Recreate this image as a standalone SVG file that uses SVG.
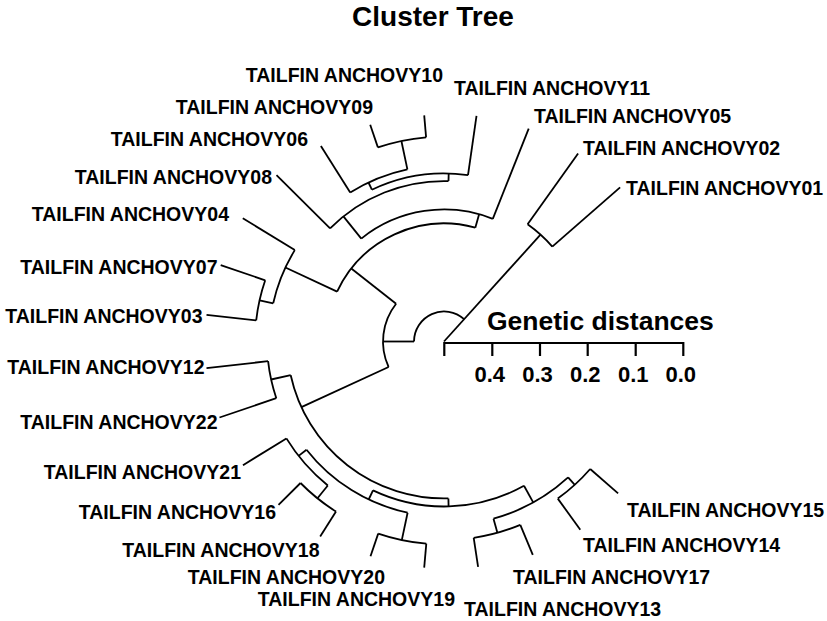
<svg xmlns="http://www.w3.org/2000/svg" width="827" height="621" viewBox="0 0 827 621">
<style>
.br{fill:none;stroke:#000;stroke-width:1.8;stroke-linecap:butt}
.sb{fill:none;stroke:#000;stroke-width:2.2}
.lb{font-family:"Liberation Sans",Arial,sans-serif;font-weight:bold;font-size:19.5px;fill:#000}
.l{text-anchor:end}
.tt{font-family:"Liberation Sans",Arial,sans-serif;font-weight:bold;fill:#000}
</style>
<rect width="827" height="621" fill="#fff"/>
<text class="tt" x="433" y="25.5" font-size="28" text-anchor="middle">Cluster Tree</text>
<g id="connectors">
<path class="br" d="M444,341.5 L540.5,234.7"/>
<path class="br" d="M464.1,319.2 A30,30 0 0 0 414,341.5"/>
<path class="br" d="M414,341.5 L383,341.5"/>
<path class="br" d="M396.1,303.8 A61,61 0 0 0 388.6,367"/>
<path class="br" d="M396.1,303.8 L351.3,268.5"/>
<path class="br" d="M475.3,227.7 A118,118 0 0 0 337.1,291.6"/>
<path class="br" d="M337.1,291.6 L285.4,267.5"/>
<path class="br" d="M294.8,250.1 A175,175 0 0 0 273.2,303.3"/>
<path class="br" d="M294.8,250.1 L242.8,218.2"/>
<path class="br" d="M273.2,303.3 L259.6,300.3"/>
<path class="br" d="M265.2,280.3 A189,189 0 0 0 256.2,320.4"/>
<path class="br" d="M265.2,280.3 L220.7,265.1"/>
<path class="br" d="M256.2,320.4 L206.5,314.9"/>
<path class="br" d="M475.3,227.7 L479.1,214.2"/>
<path class="br" d="M492.8,218.9 A132,132 0 0 0 361.3,238.6"/>
<path class="br" d="M492.8,218.9 L528.7,128.7"/>
<path class="br" d="M361.3,238.6 L343.4,216.4"/>
<path class="br" d="M448.5,181.1 A160.5,160.5 0 0 0 330.1,228.4"/>
<path class="br" d="M330.1,228.4 L276.5,175.2"/>
<path class="br" d="M448.5,181.1 L448.7,173.6"/>
<path class="br" d="M468,175.2 A168,168 0 0 0 371.9,189.7"/>
<path class="br" d="M468,175.2 L476.5,115.8"/>
<path class="br" d="M371.9,189.7 L368.5,182.5"/>
<path class="br" d="M407.4,169.4 A176,176 0 0 0 350.2,192.6"/>
<path class="br" d="M350.2,192.6 L320.9,146"/>
<path class="br" d="M407.4,169.4 L401.4,141"/>
<path class="br" d="M426.1,137.3 A205,205 0 0 0 377.9,147.4"/>
<path class="br" d="M426.1,137.3 L424.2,115.4"/>
<path class="br" d="M377.9,147.4 L370.2,124.7"/>
<path class="br" d="M552.3,246.6 A144,144 0 0 0 527.6,224.3"/>
<path class="br" d="M552.3,246.6 L620.1,187.4"/>
<path class="br" d="M527.6,224.3 L578.1,153.4"/>
<path class="br" d="M388.6,367 L301.4,407.1"/>
<path class="br" d="M290.7,375.2 A157,157 0 0 0 448.4,498.4"/>
<path class="br" d="M290.7,375.2 L271.1,379.5"/>
<path class="br" d="M268.1,361.2 A177,177 0 0 0 276.3,398.2"/>
<path class="br" d="M268.1,361.2 L206.5,368.1"/>
<path class="br" d="M276.3,398.2 L219.5,417.5"/>
<path class="br" d="M448.4,498.4 L448.6,506.4"/>
<path class="br" d="M373,490.4 A165,165 0 0 0 524,485.8"/>
<path class="br" d="M373,490.4 L368.7,499.5"/>
<path class="br" d="M306.5,449.7 A175,175 0 0 0 407.6,512.7"/>
<path class="br" d="M306.5,449.7 L298.6,455.9"/>
<path class="br" d="M286.4,438.4 A185,185 0 0 0 327.8,485.5"/>
<path class="br" d="M286.4,438.4 L243,465.2"/>
<path class="br" d="M327.8,485.5 L317.5,498.3"/>
<path class="br" d="M300.5,483 A201.5,201.5 0 0 0 336,511.6"/>
<path class="br" d="M300.5,483 L278.5,504.8"/>
<path class="br" d="M336,511.6 L320.2,536.5"/>
<path class="br" d="M407.6,512.7 L401.8,540.1"/>
<path class="br" d="M378.2,533.6 A203,203 0 0 0 426.3,543.7"/>
<path class="br" d="M378.2,533.6 L370.5,556.3"/>
<path class="br" d="M426.3,543.7 L424.2,567.6"/>
<path class="br" d="M524,485.8 L533.2,502.4"/>
<path class="br" d="M493.5,518.7 A184,184 0 0 0 568.1,477.4"/>
<path class="br" d="M493.5,518.7 L497.4,532.7"/>
<path class="br" d="M473.7,537.8 A198.5,198.5 0 0 0 520.3,524.8"/>
<path class="br" d="M473.7,537.8 L478.1,566.9"/>
<path class="br" d="M520.3,524.8 L532.8,554.8"/>
<path class="br" d="M568.1,477.4 L574.8,484.8"/>
<path class="br" d="M557.8,498.6 A194,194 0 0 0 590.2,469"/>
<path class="br" d="M557.8,498.6 L580.3,529.8"/>
<path class="br" d="M590.2,469 L618.1,493.4"/>
</g>
<g id="tip01"><text class="lb" x="626" y="195">TAILFIN ANCHOVY01</text></g>
<g id="tip02"><text class="lb" x="583" y="155">TAILFIN ANCHOVY02</text></g>
<g id="tip05"><text class="lb" x="534" y="123">TAILFIN ANCHOVY05</text></g>
<g id="tip11"><text class="lb" x="454" y="95">TAILFIN ANCHOVY11</text></g>
<g id="tip10"><text class="lb l" x="443" y="82">TAILFIN ANCHOVY10</text></g>
<g id="tip09"><text class="lb l" x="373" y="114">TAILFIN ANCHOVY09</text></g>
<g id="tip06"><text class="lb l" x="308" y="145.5">TAILFIN ANCHOVY06</text></g>
<g id="tip08"><text class="lb l" x="272" y="184">TAILFIN ANCHOVY08</text></g>
<g id="tip04"><text class="lb l" x="229" y="221">TAILFIN ANCHOVY04</text></g>
<g id="tip07"><text class="lb l" x="217.5" y="273.5">TAILFIN ANCHOVY07</text></g>
<g id="tip03"><text class="lb l" x="202.5" y="322.5">TAILFIN ANCHOVY03</text></g>
<g id="tip12"><text class="lb l" x="204.5" y="374">TAILFIN ANCHOVY12</text></g>
<g id="tip22"><text class="lb l" x="217.5" y="429">TAILFIN ANCHOVY22</text></g>
<g id="tip21"><text class="lb l" x="241" y="478.5">TAILFIN ANCHOVY21</text></g>
<g id="tip16"><text class="lb l" x="276" y="519">TAILFIN ANCHOVY16</text></g>
<g id="tip18"><text class="lb l" x="319.5" y="557">TAILFIN ANCHOVY18</text></g>
<g id="tip20"><text class="lb l" x="385" y="584">TAILFIN ANCHOVY20</text></g>
<g id="tip19"><text class="lb l" x="455" y="606">TAILFIN ANCHOVY19</text></g>
<g id="tip13"><text class="lb" x="464" y="616">TAILFIN ANCHOVY13</text></g>
<g id="tip17"><text class="lb" x="513" y="584">TAILFIN ANCHOVY17</text></g>
<g id="tip14"><text class="lb" x="583" y="552">TAILFIN ANCHOVY14</text></g>
<g id="tip15"><text class="lb" x="627" y="517">TAILFIN ANCHOVY15</text></g>
<g id="scalebar">
<text class="tt" x="487" y="330" font-size="26.5">Genetic distances</text>
<path class="sb" d="M444,343 H684.3 M444.3,342 V356 M492.3,342 V356 M540,342 V356 M587.7,342 V356 M635.7,342 V356 M683.3,342 V356"/>
<text class="tt" font-size="22" y="381.5" text-anchor="middle"><tspan x="489.8">0.4</tspan><tspan x="537.5">0.3</tspan><tspan x="585.2">0.2</tspan><tspan x="633.2">0.1</tspan><tspan x="680.8">0.0</tspan></text>
</g>
</svg>
